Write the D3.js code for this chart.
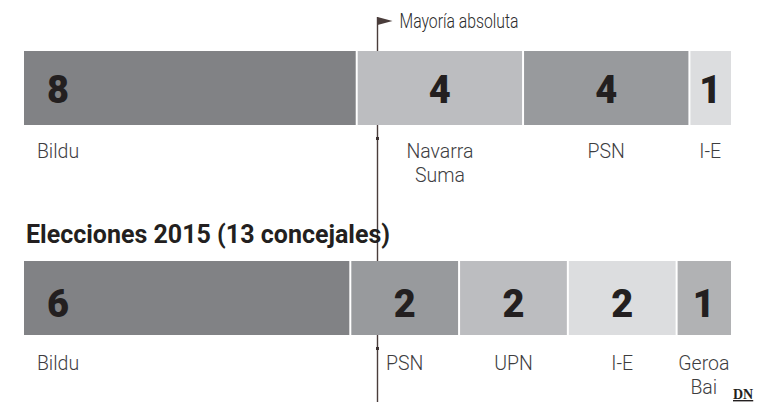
<!DOCTYPE html>
<html>
<head>
<meta charset="utf-8">
<script src="https://cdn.jsdelivr.net/npm/d3@7"></script>
<style>
    html, body { margin: 0; padding: 0; background: #fff; }
    svg { display: block; }
</style>
</head>
<body>
<svg class="chart"></svg>
<script>
// 2019 (top bar)
let parties2019 = ["Bildu", "Navarra Suma", "PSN", "I-E"]
let seats2019 = [8, 4, 4, 1]

// 2015 (bottom bar)
let title2015 = "Elecciones 2015 (13 concejales)"
let parties2015 = ["Bildu", "PSN", "UPN", "I-E", "Geroa Bai"]
let seats2015 = [6, 2, 2, 2, 1]

let majorityLabel = "Mayoría absoluta"

let party_colors = {
    "Bildu": "#818285",
    "Navarra Suma": "#bcbdc0",
    "PSN": "#989a9d",
    "I-E": "#dcdddf",
    "UPN": "#bcbdc0",
    "Geroa Bai": "#b1b2b4"
}

let width = 758
let height = 404
let left = 24
let right = 731
let gap = 2

let svg = d3.select(".chart")
    .attr("width", width)
    .attr("height", height)

// no condensed font installed: squeeze light Roboto to look like it
function condense(sel, k) {
    sel.each(function () {
        let w = this.getComputedTextLength()
        d3.select(this)
            .attr("textLength", w * k)
            .attr("lengthAdjust", "spacingAndGlyphs")
    })
}

function stack(parties, seats) {
    let acc = 0
    return parties.map((p, i) => {
        let d = {party: p, seats: seats[i], start: acc, end: acc + seats[i], i: i, n: parties.length}
        acc += seats[i]
        return d
    })
}

function draw_row(parties, seats, layout) {
    let total = d3.sum(seats)
    let x = d3.scaleLinear()
        .domain([0, total])
        .range([left, right])

    let data = stack(parties, seats)
    let g = svg.append("g").classed("row", true)

    g.selectAll("rect.seg")
        .data(data)
        .enter().append("rect")
        .classed("seg", true)
        .attr("x", d => x(d.start) + (d.i > 0 ? gap / 2 : 0))
        .attr("width", d => x(d.end) - x(d.start) - (d.i > 0 ? gap / 2 : 0) - (d.i < d.n - 1 ? gap / 2 : 0))
        .attr("y", layout.top)
        .attr("height", layout.h)
        .attr("fill", d => party_colors[d.party])

    // first segment is anchored near its left edge, the rest are centered
    let anchor = d => d.i == 0 ? x(d.start) + 34 : (x(d.start) + x(d.end)) / 2

    g.selectAll("text.num")
        .data(data)
        .enter().append("text")
        .classed("num", true)
        .attr("x", anchor)
        .attr("y", layout.top + layout.h - layout.numUp)
        .attr("text-anchor", "middle")
        .style("font-family", "Roboto, sans-serif")
        .style("font-weight", 900)
        .style("font-size", "38px")
        .style("fill", "#231f20")
        .text(d => d.seats)

    let labels = g.selectAll("text.name")
        .data(data)
        .enter().append("text")
        .classed("name", true)
        .attr("y", layout.top + layout.h + layout.labelDown)
        .attr("text-anchor", "middle")
        .style("font-family", "Roboto, sans-serif")
        .style("font-weight", 300)
        .style("font-size", "20.5px")
        .style("fill", "#3d3d3f")

    labels.selectAll("tspan")
        .data(d => d.party.split(" ").map(w => ({w: w, x: anchor(d)})))
        .enter().append("tspan")
        .attr("x", t => t.x)
        .attr("dy", (t, j) => j == 0 ? 0 : layout.lineH)
        .text(t => t.w)
        .call(condense, 0.95)

    // small marks where the majority line leaves the bar
    g.append("rect")
        .attr("x", x(total / 2) - 1.5)
        .attr("y", layout.top + layout.h + 12)
        .attr("width", 3)
        .attr("height", 3)
        .attr("fill", "#3b3030")

    return x
}

// majority line behind the bars
let xTop = d3.scaleLinear().domain([0, d3.sum(seats2019)]).range([left, right])
let xm = xTop(d3.sum(seats2019) / 2)

svg.append("line")
    .attr("x1", xm).attr("x2", xm)
    .attr("y1", 17).attr("y2", 402)
    .attr("stroke", "#4a3d3b")
    .attr("stroke-width", 1.4)

svg.append("path")
    .attr("d", d3.line()([[xm, 17], [xm + 15, 21], [xm, 25]]) + "Z")
    .attr("fill", "#4a3d3b")

svg.append("text")
    .attr("x", xm + 22)
    .attr("y", 28)
    .style("font-family", "Roboto, sans-serif")
    .style("font-weight", 300)
    .style("font-size", "21px")
    .style("fill", "#2b2b2b")
    .text(majorityLabel)
    .call(condense, 0.75)

svg.append("text")
    .attr("x", 26)
    .attr("y", 243)
    .style("font-family", "Roboto, sans-serif")
    .style("font-weight", 700)
    .style("font-size", "25px")
    .style("fill", "#231f20")
    .text(title2015)

draw_row(parties2019, seats2019, {top: 51, h: 74, numUp: 22, labelDown: 33, lineH: 24})
draw_row(parties2015, seats2015, {top: 261, h: 74, numUp: 18, labelDown: 35, lineH: 24})

svg.append("text")
    .attr("x", 733)
    .attr("y", 399)
    .style("font-family", "'Liberation Serif', 'DejaVu Serif', serif")
    .style("font-weight", 700)
    .style("font-size", "14px")
    .style("text-decoration", "underline")
    .style("fill", "#231f20")
    .text("DN")
</script>
</body>
</html>
